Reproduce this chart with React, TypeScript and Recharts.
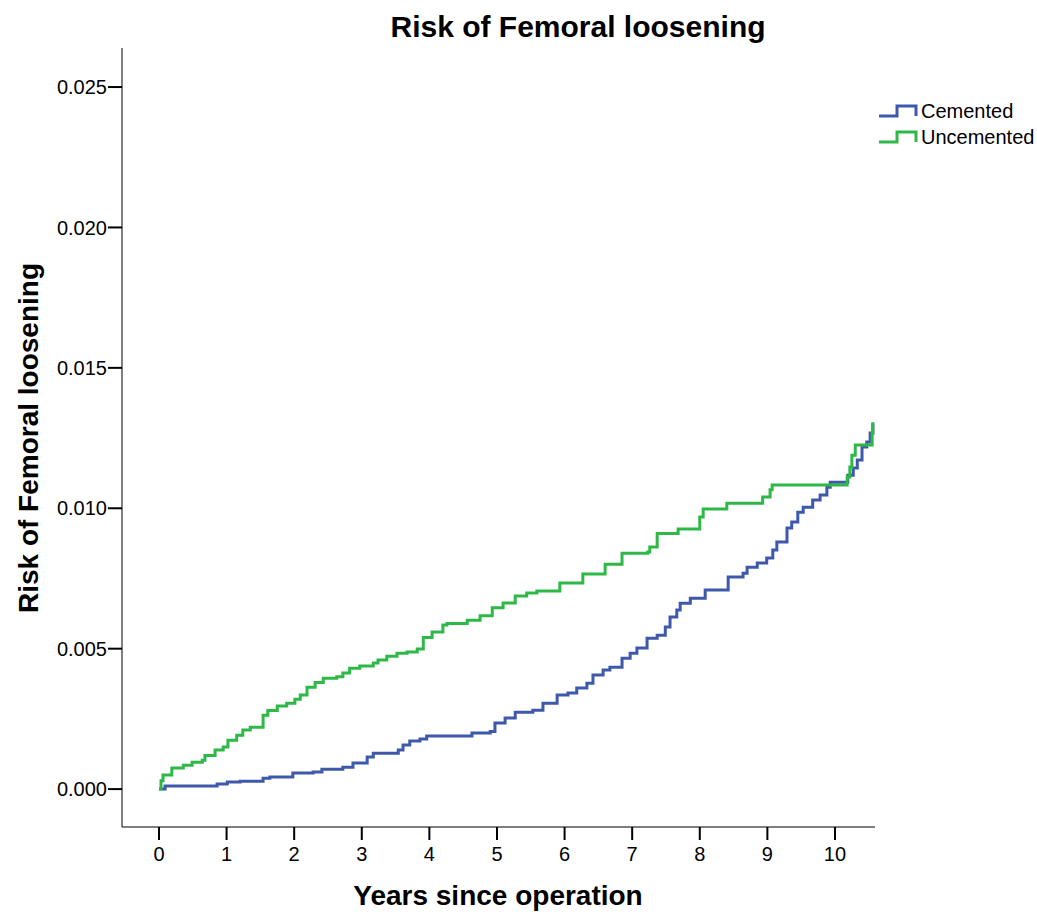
import React from "react";
import { LineChart, Line, XAxis, YAxis } from "recharts";

const xTicks = [0, 1, 2, 3, 4, 5, 6, 7, 8, 9, 10];
const yTicks = [0, 0.005, 0.01, 0.015, 0.02, 0.025];

const cementedT = [0, 0.09, 0.86, 1.01, 1.2, 1.54, 1.64, 1.98, 2.28, 2.41, 2.72, 2.87, 3.08, 3.17, 3.54, 3.61, 3.71, 3.86, 3.96, 4.63, 4.9, 4.97, 5.12, 5.27, 5.53, 5.68, 5.89, 6.05, 6.18, 6.33, 6.42, 6.57, 6.67, 6.85, 6.97, 7.07, 7.22, 7.37, 7.49, 7.56, 7.66, 7.71, 7.86, 8.08, 8.42, 8.64, 8.7, 8.85, 8.99, 9.08, 9.14, 9.29, 9.36, 9.45, 9.53, 9.67, 9.78, 9.88, 9.93, 10.19, 10.27, 10.33, 10.4, 10.47, 10.52, 10.56];
const cementedV = [0, 0.00011, 0.00018, 0.00025, 0.00028, 0.00039, 0.00043, 0.00057, 0.00061, 0.00071, 0.00078, 0.00093, 0.00114, 0.00128, 0.00139, 0.00157, 0.00171, 0.00178, 0.00189, 0.002, 0.00205, 0.00235, 0.00253, 0.00274, 0.00281, 0.00306, 0.00335, 0.00342, 0.0036, 0.00377, 0.00406, 0.00424, 0.00434, 0.00466, 0.00484, 0.00502, 0.00537, 0.00548, 0.00577, 0.00613, 0.00638, 0.00662, 0.0068, 0.00709, 0.00755, 0.00769, 0.0079, 0.00805, 0.00823, 0.00851, 0.0088, 0.0093, 0.00951, 0.00986, 0.01004, 0.01029, 0.01047, 0.01075, 0.01093, 0.01118, 0.01143, 0.01172, 0.01218, 0.01236, 0.01268, 0.01303];

const uncementedT = [0, 0.03, 0.06, 0.19, 0.36, 0.49, 0.64, 0.68, 0.83, 0.95, 1.02, 1.15, 1.24, 1.35, 1.54, 1.61, 1.75, 1.89, 2.01, 2.09, 2.19, 2.31, 2.43, 2.63, 2.72, 2.82, 2.97, 3.17, 3.24, 3.37, 3.52, 3.67, 3.82, 3.91, 4.04, 4.2, 4.26, 4.56, 4.75, 4.93, 5.09, 5.27, 5.44, 5.59, 5.93, 6.27, 6.6, 6.85, 7.23, 7.26, 7.37, 7.68, 8.0, 8.05, 8.4, 8.93, 9.04, 9.07, 10.18, 10.22, 10.25, 10.3, 10.55, 10.56];
const uncementedV = [0, 0.0003, 0.0005, 0.00075, 0.00085, 0.00096, 0.00103, 0.0012, 0.00139, 0.0015, 0.00174, 0.00192, 0.0021, 0.0022, 0.00263, 0.0028, 0.00296, 0.00306, 0.0032, 0.00335, 0.00363, 0.0038, 0.00395, 0.004, 0.00413, 0.0043, 0.00438, 0.00449, 0.0046, 0.00473, 0.00484, 0.00488, 0.00499, 0.0054, 0.00559, 0.00584, 0.0059, 0.00601, 0.00617, 0.00646, 0.00663, 0.00688, 0.00698, 0.00705, 0.00734, 0.00766, 0.00801, 0.0084, 0.00844, 0.00862, 0.0091, 0.00926, 0.00969, 0.00997, 0.01018, 0.0104, 0.01066, 0.01083, 0.01111, 0.01147, 0.01189, 0.01225, 0.01268, 0.01306];

const seriesNames = ["Cemented", "Uncemented"];
const seriesColors = ["#3E58AC", "#2EB848"];

const cementedData = cementedT.map((t, i) => ({ t, v: cementedV[i] }));
const uncementedData = uncementedT.map((t, i) => ({ t, v: uncementedV[i] }));

const FONT = "'Liberation Sans', Arial, sans-serif";

const LegendBox = () => (
  <div style={{ position: "absolute", left: 878, top: 98, fontFamily: FONT, fontSize: 20, color: "#000" }}>
    {seriesNames.map((n, i) => (
      <div key={n} style={{ display: "flex", alignItems: "center", height: 26 }}>
        <svg width={40} height={14} style={{ marginRight: 3 }}>
          <path d="M1,12 H19 V2 H38 V12" fill="none" stroke={seriesColors[i]} strokeWidth={3} />
        </svg>
        <span>{n}</span>
      </div>
    ))}
  </div>
);

export default function App() {
  return (
    <div style={{ position: "absolute", left: 0, top: 0, width: 1037, height: 912, background: "#fff", fontFamily: FONT }}>
      <LineChart width={1037} height={912} margin={{ top: 48, right: 162, bottom: 0, left: 0 }}>
        <XAxis
          dataKey="t"
          type="number"
          domain={[-0.547, 10.592]}
          allowDataOverflow
          ticks={xTicks}
          tickSize={13}
          tickMargin={7}
          height={85}
          stroke="#000"
          tick={{ fill: "#000", fontSize: 20, fontFamily: FONT }}
          tickLine={{ stroke: "#000", strokeWidth: 2 }}
          axisLine={{ stroke: "#000", strokeWidth: 1 }}
          label={{
            content: () => (
              <text x={498} y={905} textAnchor="middle" fontSize={28} fontWeight="bold" fontFamily={FONT} fill="#000">
                Years since operation
              </text>
            ),
          }}
        />
        <YAxis
          type="number"
          domain={[-0.00135, 0.02639]}
          allowDataOverflow
          ticks={yTicks}
          tickFormatter={(v: number) => v.toFixed(3)}
          width={122}
          tickSize={14}
          tickMargin={1}
          stroke="#000"
          tick={{ fill: "#000", fontSize: 20, fontFamily: FONT }}
          tickLine={{ stroke: "#000", strokeWidth: 2 }}
          axisLine={{ stroke: "#000", strokeWidth: 1 }}
          label={{
            content: () => (
              <text x={38} y={438} transform="rotate(-90 38 438)" textAnchor="middle" fontSize={28} fontWeight="bold" fontFamily={FONT} fill="#000">
                Risk of Femoral loosening
              </text>
            ),
          }}
        />
        <Line data={cementedData} dataKey="v" name={seriesNames[0]} type="stepAfter" stroke={seriesColors[0]} strokeWidth={3} dot={false} isAnimationActive={false} />
        <Line data={uncementedData} dataKey="v" name={seriesNames[1]} type="stepAfter" stroke={seriesColors[1]} strokeWidth={3} dot={false} isAnimationActive={false} />
      </LineChart>
      <div style={{ position: "absolute", left: 0, width: 1156, top: 10, textAlign: "center", fontSize: 30, fontWeight: "bold", color: "#000" }}>
        Risk of Femoral loosening
      </div>
      <LegendBox />
    </div>
  );
}
